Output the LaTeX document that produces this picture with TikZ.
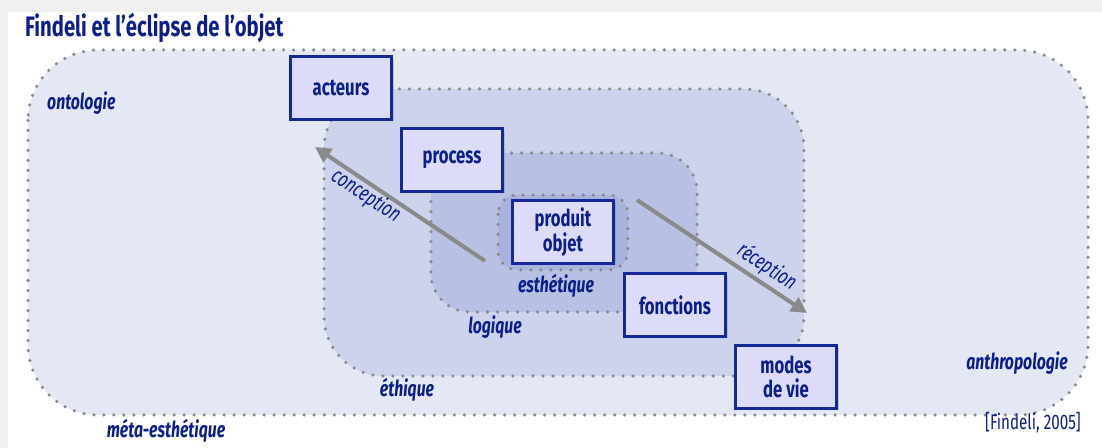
\documentclass[tikz,border=0pt]{standalone}
\usepackage{fontspec}
\setmainfont{Fira Sans}[FakeStretch=0.72]
\usepackage{tikz}
\usetikzlibrary{arrows.meta,shadows}

\definecolor{textblue}{HTML}{0A1E8C}
\definecolor{boxline}{HTML}{14289A}
\definecolor{boxfill}{HTML}{DCDCFA}
\definecolor{metafill}{HTML}{E4E8F5}
\definecolor{ethfill}{HTML}{CDD3EC}
\definecolor{logfill}{HTML}{B8C1E3}
\definecolor{estfill}{HTML}{A8B2DD}
\definecolor{dotgray}{HTML}{8A8A8A}

\tikzset{
	zone/.style={draw=dotgray, line width=2pt, line cap=round, dash pattern=on 0pt off 5.7pt},
	box/.style={draw=boxline, fill=boxfill, line width=1.6pt, minimum width=2.02cm, minimum height=1.25cm,
		align=center, text=textblue, font=\fontsize{13.2}{14}\selectfont\bfseries,
		drop shadow={opacity=0.35, shadow xshift=1.2pt, shadow yshift=-1.2pt}},
	level/.style={text=textblue, font=\fontsize{12.5}{13}\selectfont\bfseries\itshape},
	flow/.style={draw=dotgray, line width=2.3pt, -{Triangle[length=9pt, width=9pt]}},
	flowlabel/.style={text=textblue, font=\fontsize{12.5}{13}\selectfont\itshape, rotate=-33.6},
}

\begin{document}
\begin{tikzpicture}[x=0.02cm, y=-0.02cm]
		\useasboundingbox (0, 0) rectangle (1102, 448);
		\fill[black!6] (0, 0) rectangle (1102, 448);
		\fill[white] (8, 12) rectangle (1102, 448);

		% nested zones
		\foreach \xa/\ya/\xb/\yb/\r/\c in {28/50/1088/415/40pt/metafill, 324/89/804/376/34pt/ethfill, 431/153/697/312/22pt/logfill, 498/195/628/270/11pt/estfill} {
			\draw[zone, fill=\c, rounded corners=\r] (\xa, \ya) rectangle (\xb, \yb);
		}

		\node[anchor=west, text=textblue, font=\fontsize{16}{17}\selectfont\bfseries] (title) at (19, 28) {Findeli et l’éclipse de l’objet};

		% arrows
		\coordinate (cstart) at (485, 261);
		\coordinate (cend) at (315, 147);
		\coordinate (rstart) at (637, 200);
		\coordinate (rend) at (807, 313);
		\draw[flow] (cstart) -- (cend);
		\draw[flow] (rstart) -- (rend);
		\node[flowlabel] (concep) at (366, 196) {conception};
		\node[flowlabel] (recep) at (767, 267) {réception};

		% boxes
		\node[box] (acteurs) at (341, 88) {acteurs};
		\node[box] (process) at (452, 160) {process};
		\node[box] (produit) at (563, 232) {produit\\objet};
		\node[box] (fonctions) at (675, 305) {fonctions};
		\node[box] (modes) at (786, 377) {modes\\de vie};

		% levels
		\node[level, anchor=west] (onto) at (41, 103) {ontologie};
		\node[level, anchor=east] (anthro) at (1074, 363) {anthropologie};
		\node[level] (meta) at (166, 431) {méta-esthétique};
		\node[level] (ethique) at (407, 390) {éthique};
		\node[level] (logique) at (495, 327) {logique};
		\node[level] (esthe) at (556, 286) {esthétique};
		\node[anchor=east, text=textblue, font=\fontsize{12}{13}\selectfont] (ref) at (1087, 423) {[Findeli, 2005]};
	\end{tikzpicture}
\end{document}
